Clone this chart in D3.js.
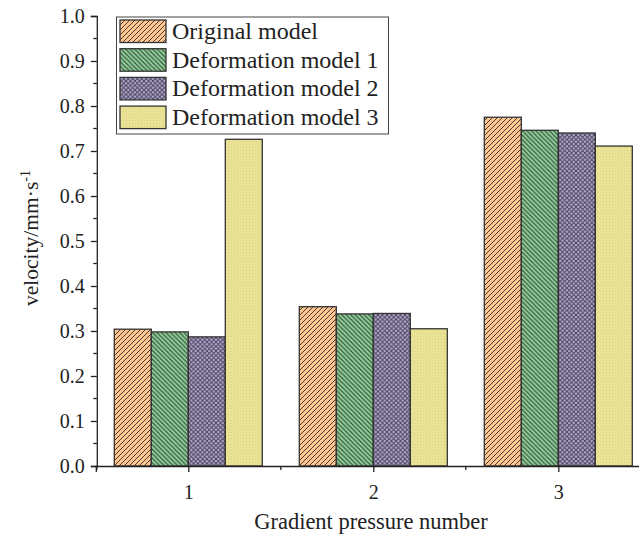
<!DOCTYPE html>
<html>
<head>
<meta charset="utf-8">
<script src="https://cdn.jsdelivr.net/npm/d3@7"></script>
<style>
  body { margin: 0; background: #fff; }
  text { font-family: "Liberation Serif", "Times New Roman", serif; fill: #222; }
</style>
</head>
<body>
<div id="chart"></div>
<script>
// Data
const categories = ['1', '2', '3'];
const seriesNames = ['Original model', 'Deformation model 1', 'Deformation model 2', 'Deformation model 3'];
const originalModel = [0.304, 0.354, 0.775];
const deformation1 = [0.298, 0.338, 0.746];
const deformation2 = [0.287, 0.339, 0.740];
const deformation3 = [0.726, 0.305, 0.711];
const yTicks = [0.0, 0.1, 0.2, 0.3, 0.4, 0.5, 0.6, 0.7, 0.8, 0.9, 1.0];

const seriesValues = [originalModel, deformation1, deformation2, deformation3];
const fills = ['#FDC590', '#8DCE97', '#B8ACD8', '#ECE596'];

const W = 639, H = 542;
const x0 = 95.8, x1 = 650.8, yTop = 16, yBottom = 466;

const svg = d3.select('#chart').append('svg')
    .attr('width', W).attr('height', H);

// Patterns
const defs = svg.append('defs');
function makePattern(id, size, bg, draw) {
    const p = defs.append('pattern')
        .attr('id', id)
        .attr('patternUnits', 'userSpaceOnUse')
        .attr('width', size).attr('height', size);
    p.append('rect').attr('width', size).attr('height', size).attr('fill', bg);
    draw(p);
}
// orange: forward diagonal
makePattern('p0', 5, fills[0], p => {
    p.append('path').attr('d', 'M0,5 L5,0 M-1,1 L1,-1 M4,6 L6,4')
        .attr('stroke', '#4a3a30').attr('stroke-width', 1);
});
// green: backward diagonal
makePattern('p1', 4.5, fills[1], p => {
    p.append('path').attr('d', 'M0,0 L4.5,4.5 M-1,3.5 L1,5.5 M3.5,-1 L5.5,1')
        .attr('stroke', '#2e3d30').attr('stroke-width', 1);
});
// purple: crosshatch with light dots
makePattern('p2', 4.5, fills[2], p => {
    p.append('path').attr('d', 'M0,0 L4.5,4.5 M0,4.5 L4.5,0')
        .attr('stroke', '#4a4356').attr('stroke-width', 1);
});
// yellow: fine dots
makePattern('p3', 3, fills[3], p => {
    p.append('rect').attr('x', 0).attr('y', 0).attr('width', 1).attr('height', 1).attr('fill', '#d4ce85');
    p.append('rect').attr('x', 1.5).attr('y', 1.5).attr('width', 1).attr('height', 1).attr('fill', '#ddd790');
});

// Scales
const xScale = d3.scaleLinear().domain([0.5, 3.5]).range([x0, x1]);
const yScale = d3.scaleLinear().domain([0, 1]).range([yBottom, yTop]);
const groupWidth = (xScale(2) - xScale(1)) * 0.8;
const barW = groupWidth / seriesNames.length;

// Bars
seriesValues.forEach((vals, si) => {
    svg.append('g').selectAll('rect')
        .data(vals)
        .enter()
        .append('rect')
        .attr('x', (d, i) => xScale(i + 1) - groupWidth / 2 + si * barW)
        .attr('y', d => yScale(d))
        .attr('width', barW)
        .attr('height', d => yScale(0) - yScale(d))
        .attr('fill', `url(#p${si})`)
        .attr('stroke', '#333')
        .attr('stroke-width', 1.3);
});

// Y axis
const yAxis = d3.axisLeft(yScale)
    .tickValues(yTicks)
    .tickSize(6)
    .tickFormat(d3.format('.1f'));
const yg = svg.append('g')
    .attr('transform', `translate(${xScale(0.5) + 1},0)`)
    .call(yAxis);
yg.select('.domain').attr('stroke', '#222').attr('stroke-width', 1.3);
yg.selectAll('.tick line').attr('stroke', '#222').attr('stroke-width', 1.3);
yg.selectAll('.tick text')
    .style('font-size', '20px')
    .attr('x', -12)
    .attr('font-family', '"Liberation Serif", serif');
// minor y ticks
yg.selectAll('.minor')
    .data(d3.range(0.05, 1, 0.1))
    .enter().append('line')
    .attr('x1', 0).attr('x2', -3.5)
    .attr('y1', d => yScale(d)).attr('y2', d => yScale(d))
    .attr('stroke', '#222').attr('stroke-width', 1.3);

// X axis
const xAxis = d3.axisBottom(xScale)
    .tickValues([1, 2, 3])
    .tickSize(6)
    .tickPadding(13)
    .tickFormat(d => categories[d - 1]);
const xg = svg.append('g')
    .attr('transform', `translate(0,${yBottom})`)
    .call(xAxis);
xg.select('.domain').attr('stroke', '#222').attr('stroke-width', 1.3);
xg.selectAll('.tick line').attr('stroke', '#222').attr('stroke-width', 1.3);
xg.selectAll('.tick text')
    .style('font-size', '20px')
    .attr('font-family', '"Liberation Serif", serif');
xg.selectAll('.minor')
    .data([0.5, 1.5, 2.5])
    .enter().append('line')
    .attr('x1', d => xScale(d) + (d === 0.5 ? 1 : 0))
    .attr('x2', d => xScale(d) + (d === 0.5 ? 1 : 0))
    .attr('y1', 0).attr('y2', 4)
    .attr('stroke', '#222').attr('stroke-width', 1.3);

// Axis titles
svg.append('text')
    .attr('x', 371)
    .attr('y', 529)
    .attr('text-anchor', 'middle')
    .style('font-size', '22.5px')
    .text('Gradient pressure number');

const yTitle = svg.append('text')
    .attr('transform', `translate(38,${(yTop + yBottom) / 2 - 3}) rotate(-90)`)
    .attr('text-anchor', 'middle')
    .style('font-size', '21.5px');
yTitle.append('tspan').text('velocity/mm·s');
yTitle.append('tspan').attr('dy', -8).style('font-size', '14px').text('-1');

// Legend
const legend = svg.append('g');
legend.append('rect')
    .attr('x', 116.5).attr('y', 17)
    .attr('width', 272).attr('height', 117)
    .attr('fill', '#fff')
    .attr('stroke', '#444')
    .attr('stroke-width', 1);
seriesNames.forEach((name, i) => {
    const y = 20 + i * 28.7;
    legend.append('rect')
        .attr('x', 120).attr('y', y)
        .attr('width', 46).attr('height', 22.5)
        .attr('fill', `url(#p${i})`)
        .attr('stroke', '#333')
        .attr('stroke-width', 1.3);
    legend.append('text')
        .attr('x', 172).attr('y', y + 19)
        .style('font-size', '24px')
        .text(name);
});
</script>
</body>
</html>
